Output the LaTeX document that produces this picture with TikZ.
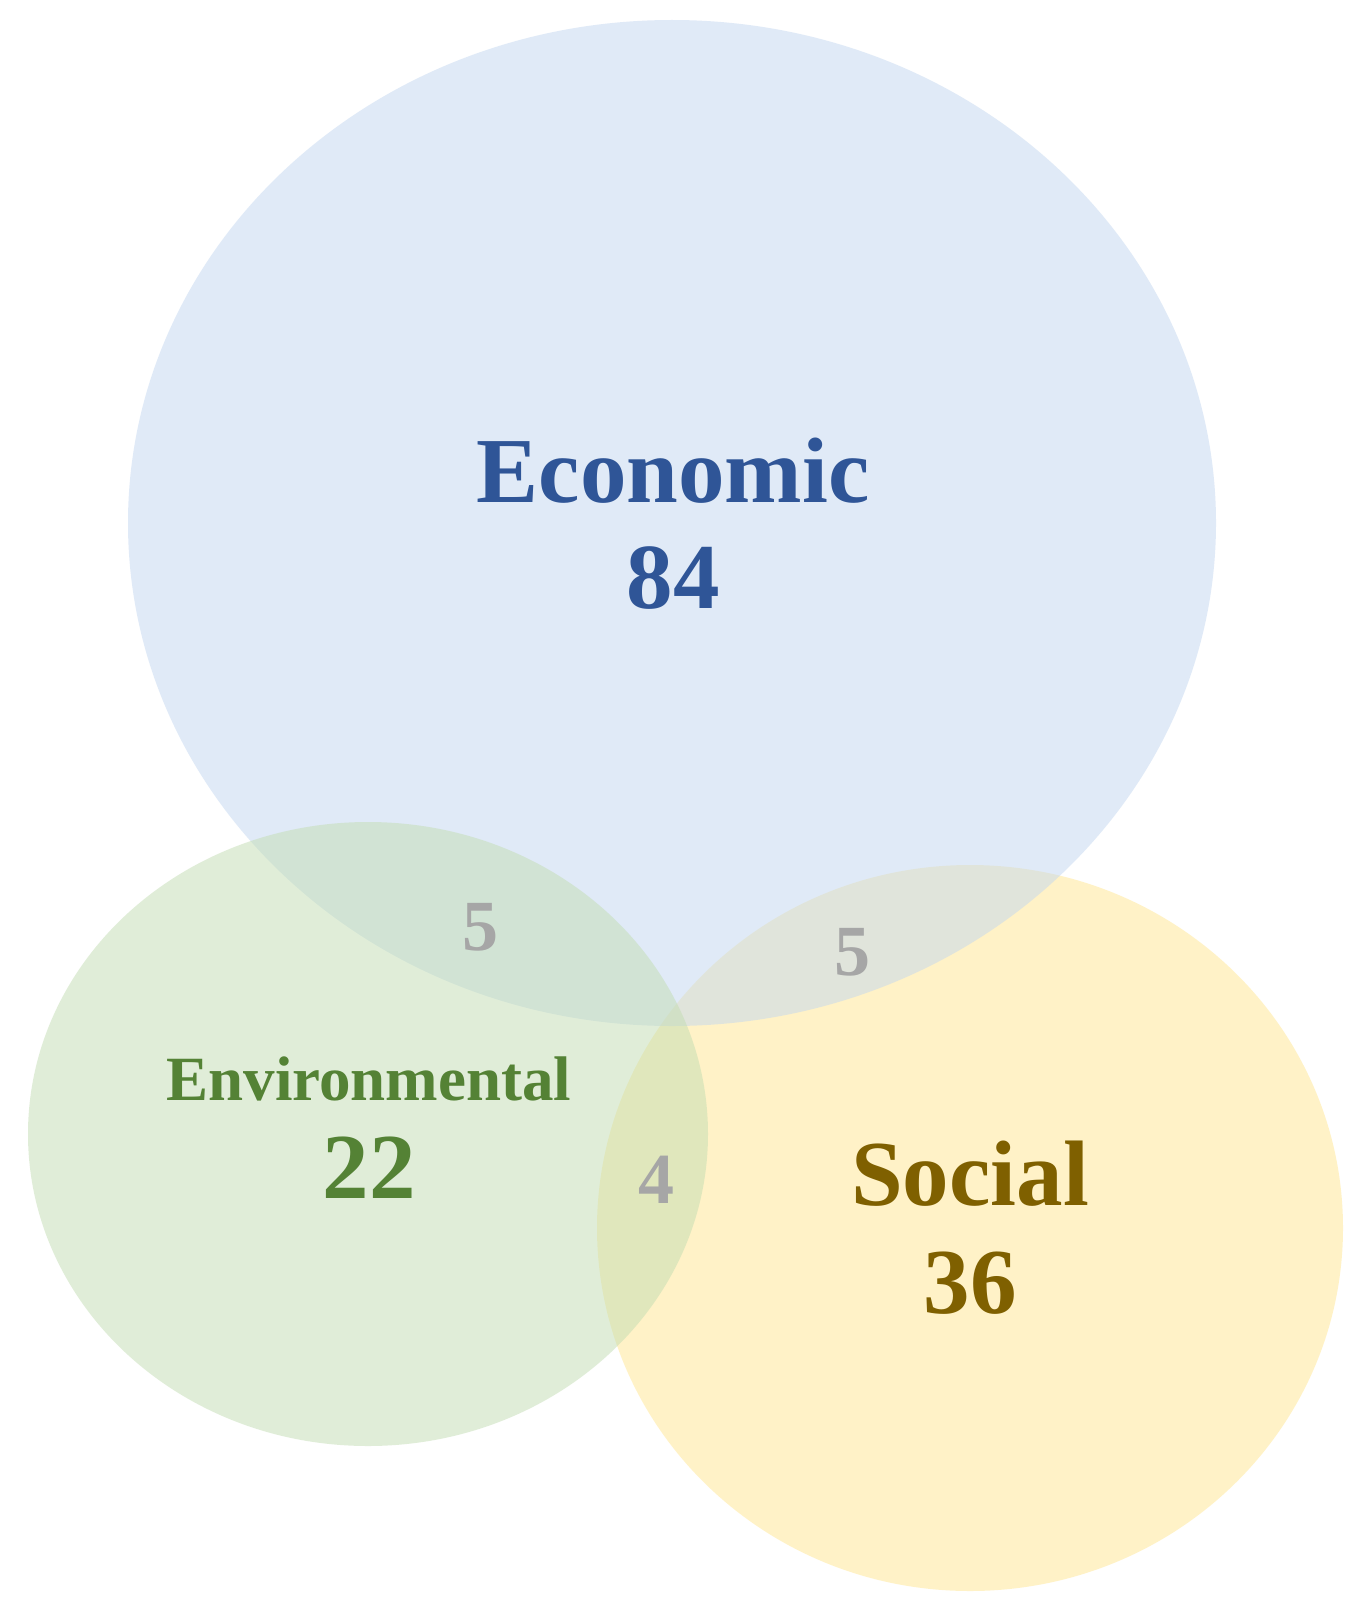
\documentclass[tikz,border=0pt]{standalone}
\usepackage{fontspec}
\setmainfont{Liberation Serif}
\definecolor{ecofill}{RGB}{195,215,240}
\definecolor{envfill}{RGB}{195,221,179}
\definecolor{socfill}{RGB}{255,231,145}
\definecolor{ecotext}{RGB}{47,85,151}
\definecolor{envtext}{RGB}{84,130,53}
\definecolor{soctext}{RGB}{127,96,0}
\definecolor{numgray}{RGB}{166,166,166}
\begin{document}
\begin{tikzpicture}[x=1pt,y=-1pt,
  setfill/.style={fill=#1,fill opacity=0.5,draw=none},
  biglabel/.style={font=\fontsize{93}{93}\selectfont\bfseries,anchor=base,inner sep=0pt,text=#1},
  smallnum/.style={font=\fontsize{72}{72}\selectfont\bfseries,anchor=base,inner sep=0pt,text=numgray}]
\useasboundingbox[fill=white] (0,0) rectangle (1357,1608);
\path[setfill=socfill] (970,1228) ellipse [x radius=373, y radius=363];
\path[setfill=ecofill] (672,523) ellipse [x radius=544, y radius=503];
\path[setfill=envfill] (368,1134) ellipse [x radius=340, y radius=312];

\node[biglabel=ecotext] (econame) at (673,502) {Economic};
\node[biglabel=ecotext] (econum) at (673,608) {84};
\node[biglabel=envtext,font=\fontsize{63}{63}\selectfont\bfseries] (envname) at (369,1100) {Environmental};
\node[biglabel=envtext] (envnum) at (369,1198) {22};
\node[biglabel=soctext] (socname) at (970,1205) {Social};
\node[biglabel=soctext] (socnum) at (970,1313) {36};
\node[smallnum] (ecoenv) at (480,950) {5};
\node[smallnum] (ecosoc) at (852,975) {5};
\node[smallnum] (envsoc) at (656,1203) {4};
\end{tikzpicture}
\end{document}
